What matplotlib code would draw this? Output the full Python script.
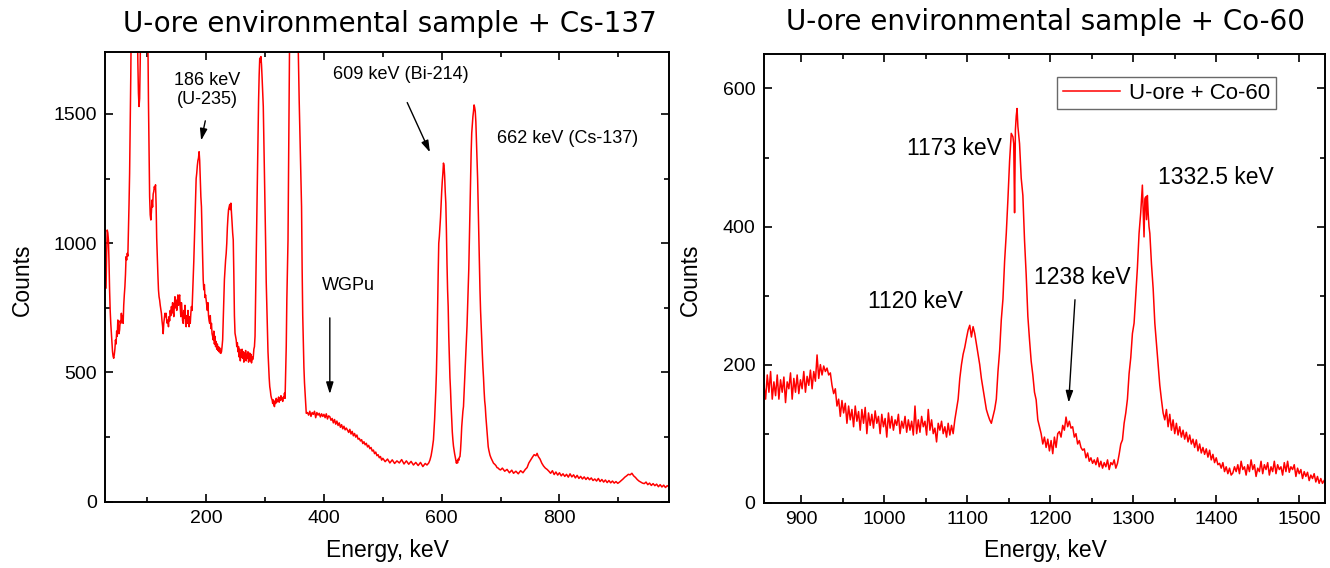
import matplotlib
matplotlib.use("Agg")
import matplotlib.pyplot as plt
from matplotlib.ticker import MultipleLocator

# --- left panel: U-ore + Cs-137 (energy keV, counts) ---
cs_energy = [
    30, 31, 32, 33, 34, 35, 36, 37, 38, 39,
    40, 41, 42, 43, 44, 45, 46, 47, 48, 49,
    50, 51, 52, 53, 54, 55, 56, 57, 58, 59,
    60, 61, 62, 63, 64, 65, 66, 67, 68, 69,
    70, 71, 72, 73, 74, 76, 78, 80, 82, 84,
    85, 86, 87, 88, 90, 92, 94, 96, 98, 100,
    101, 102, 103, 104, 105, 106, 107, 108, 109, 110,
    111, 112, 113, 114, 115, 116, 117, 118, 119, 120,
    121, 122, 123, 124, 125, 126, 127, 128, 129, 130,
    131, 132, 133, 134, 135, 136, 137, 138, 139, 140,
    141, 142, 143, 144, 145, 146, 147, 148, 149, 150,
    151, 152, 153, 154, 155, 156, 157, 158, 159, 160,
    161, 162, 163, 164, 165, 166, 167, 168, 169, 170,
    171, 172, 173, 174, 175, 176, 177, 178,
    179, 180, 181, 182, 183, 184, 185, 186, 187, 188,
    189, 190, 191, 192, 193, 194, 195, 196, 197, 198,
    199, 200, 201, 202, 203, 204, 205, 206, 207, 208,
    209, 210, 211, 212, 213, 214, 215, 216, 217, 218,
    219, 220, 221, 222, 223, 224, 225, 226, 227, 228,
    229, 230, 231, 232, 233, 234, 235, 236, 237, 238,
    239, 240, 241, 242, 243, 244, 245, 246, 247, 248,
    249, 250,
    251, 252, 253, 254, 255, 256, 257, 258, 259, 260,
    261, 262, 263, 264, 265, 266, 267, 268, 269, 270,
    271, 272, 273, 274, 275, 276, 277, 278, 279, 280,
    281, 282, 283, 284, 285, 286, 287, 288, 289, 290,
    291, 292, 293, 294, 295, 296, 297, 298, 299, 300,
    301, 302, 303, 304, 305, 306, 307, 308, 309, 310,
    311, 312, 313, 314, 315, 316, 317, 318, 319, 320,
    321, 322, 323, 324, 325, 326, 327, 328, 329, 330,
    331, 332, 333, 334, 335, 336, 337, 338, 339, 340,
    341, 342, 344, 346, 348, 350, 352, 354, 356, 358,
    360, 362, 363, 364, 365, 366, 367, 368, 369, 370,
    372, 374, 376, 378, 380, 382, 384, 386, 388, 390,
    392, 394, 396, 398, 400, 402, 404, 406, 408, 410,
    412, 414, 416, 418, 420, 422, 424, 426, 428, 430,
    432, 434, 436, 438, 440, 442, 444, 446, 448, 450,
    452, 454, 456, 458, 460, 462, 464, 466, 468, 470,
    472, 474, 476, 478, 480, 482, 484, 486, 488, 490,
    492, 494, 496, 498, 500,
    504, 508, 512, 516, 520, 524, 528, 532, 536, 540,
    544, 548, 552, 556, 560, 564, 568, 572, 575, 578,
    580, 582, 584, 586, 588, 590, 591, 592, 593, 594,
    595, 596, 597, 598, 599, 600, 601, 602, 603, 604,
    605, 606, 607, 608, 609, 610, 611, 612, 613, 614,
    615, 616, 617, 618, 619, 620, 622, 624, 625, 626,
    627, 628, 629, 630, 631, 632, 633, 634, 635, 636,
    637, 638, 639, 640, 641, 642, 643, 644, 645, 646,
    647, 648, 649, 650, 651, 652, 653, 654, 655, 656,
    657, 658, 659, 660, 661, 662, 663, 664, 665, 666,
    667, 668, 669, 670, 671, 672, 673, 674, 675, 676,
    677, 678, 679, 680, 682, 684, 686, 688, 690, 692,
    694, 696, 698, 700,
    703, 707, 711, 715, 719, 722, 726, 730, 734, 738,
    742, 745, 748, 751, 754, 757, 760, 762, 764, 767,
    770, 773, 776, 779, 782, 785, 788, 791, 794, 797,
    800, 803, 806, 809, 812, 815, 818, 821, 824, 827,
    830, 833, 836, 839, 842, 845, 848, 851, 854, 857,
    860, 863, 866, 869, 872, 875, 878, 881, 884, 887,
    890, 893, 896, 899, 902, 905, 908, 911, 914, 917,
    920, 923, 926, 929, 932, 935, 938, 941, 944, 947,
    950, 953, 956, 959, 962, 965, 968, 971, 974, 977,
    980, 983, 986,
]
cs_counts = [
    827, 960, 1051, 1040, 1013, 930, 819, 740, 690, 652,
    610, 580, 562, 555, 570, 590, 626, 610, 660, 640,
    703, 680, 650, 665, 700, 690, 729, 700, 720, 690,
    760, 800, 832, 880, 948, 935, 961, 950, 1050, 1150,
    1271, 1450, 1650, 1900, 2200, 2600, 2750, 2500, 2100, 1700,
    1580, 1529, 1560, 1700, 2100, 2500, 2700, 2600, 2300, 2000,
    1800, 1550, 1350, 1180, 1110, 1090, 1120, 1167, 1140, 1190,
    1200, 1219, 1210, 1226, 1150, 1020, 948, 880, 820, 793,
    780, 760, 745, 729, 700, 680, 650, 690, 710, 729,
    716, 729, 700, 690, 703, 677, 716, 700, 740, 720,
    755, 730, 770, 740, 716, 760, 793, 750, 780, 740,
    770, 800, 760, 790, 800, 750, 716, 770, 740, 700,
    690, 740, 710, 760, 690, 677, 720, 690, 740, 700,
    677, 716, 690, 730, 755, 740, 800, 858,
    930, 1013, 1100, 1180, 1250, 1271, 1300, 1320, 1330, 1354,
    1320, 1250, 1180, 1141, 1040, 948, 858, 820, 840, 790,
    800, 781, 760, 740, 770, 720, 700, 690, 720, 670,
    690, 650, 640, 626, 660, 610, 640, 600, 620, 590,
    610, 585, 600, 580, 595, 575, 574, 580, 600, 626,
    700, 780, 860, 900, 935, 960, 1000, 1060, 1100, 1130,
    1141, 1150, 1130, 1155, 1120, 1080, 1040, 1013, 880, 720,
    652, 640,
    626, 600, 615, 580, 600, 560, 590, 545, 575, 560,
    590, 555, 580, 540, 575, 550, 585, 545, 570, 555,
    580, 540, 560, 575, 545, 570, 537, 560, 550, 560,
    590, 600, 640, 800, 950, 1100, 1250, 1400, 1550, 1650,
    1716, 1700, 1722, 1690, 1640, 1580, 1529, 1400, 1250, 1141,
    1000, 850, 755, 650, 580, 530, 480, 445, 430, 410,
    400, 394, 380, 394, 375, 368, 390, 380, 400, 385,
    395, 390, 405, 385, 400, 392, 410, 395, 400, 388,
    405, 400, 420, 400, 497, 600, 780, 900, 1013, 1300,
    1600, 1900, 2300, 2700, 2900, 3000, 2950, 2700, 1800, 1550,
    1350, 1141, 900, 720, 626, 520, 460, 419, 380, 342,
    345, 335, 350, 330, 345, 338, 350, 325, 345, 335,
    342, 328, 340, 330, 338, 325, 340, 320, 332, 329,
    315, 322, 305, 318, 300, 312, 295, 305, 288, 298,
    282, 292, 278, 285, 277, 268, 280, 262, 272, 255,
    264, 250, 258, 242, 245, 235, 240, 225, 232, 220,
    226, 212, 218, 205, 210, 196, 200, 186, 192, 178,
    182, 170, 175, 161, 168,
    155, 165, 150, 162, 148, 158, 150, 163, 146, 158,
    145, 156, 142, 152, 140, 152, 136, 148, 142, 150,
    161, 178, 205, 239, 320, 430, 497, 600, 750, 880,
    1000, 1026, 1060, 1100, 1150, 1200, 1240, 1270, 1310, 1300,
    1260, 1200, 1155, 1050, 920, 820, 755, 640, 560, 480,
    432, 370, 320, 270, 239, 215, 185, 160, 149, 158,
    150, 165, 160, 172, 174, 200, 240, 290, 320, 350,
    368, 420, 480, 520, 570, 626, 680, 750, 820, 900,
    1013, 1120, 1250, 1350, 1426, 1460, 1490, 1510, 1535, 1525,
    1510, 1470, 1400, 1320, 1250, 1140, 1026, 920, 820, 740,
    680, 626, 570, 520, 480, 430, 390, 368, 330, 300,
    270, 240, 213, 200, 180, 168, 158, 149, 145, 140,
    132, 130, 125, 123,
    130, 118, 125, 112, 122, 110, 118, 108, 120, 112,
    125, 132, 150, 161, 172, 182, 178, 187, 175, 165,
    149, 138, 130, 125, 118, 110, 120, 105, 115, 103,
    112, 100, 108, 98, 106, 95, 108, 96, 104, 92,
    102, 90, 98, 88, 96, 86, 94, 85, 92, 82,
    88, 80, 90, 78, 86, 76, 84, 74, 82, 73,
    80, 72, 78, 71, 76, 82, 88, 95, 100, 106,
    104, 110, 100, 94, 86, 80, 76, 72, 70, 76,
    66, 72, 63, 70, 62, 68, 58, 66, 57, 64,
    55, 62, 58,
]

# --- right panel: U-ore + Co-60 ---
co_energy = [
    855, 857, 859, 861, 863, 865, 867, 869, 871, 873,
    875, 877, 879, 881, 883, 885, 887, 889, 891, 893,
    895, 897, 899, 901, 903, 905, 907, 909, 911, 913,
    915, 917, 919, 921, 923, 925, 927, 929, 931, 933,
    935, 937, 939, 941, 943, 945, 947, 949, 951, 953,
    955, 957, 959, 961, 963, 965, 967, 969, 971, 973,
    975, 977, 979, 981, 983, 985, 987, 989, 991, 993,
    995, 997, 999, 1001, 1003, 1005, 1007, 1009, 1011, 1013,
    1015, 1017, 1019, 1021, 1023, 1025, 1027, 1029, 1031, 1033,
    1035, 1037, 1039, 1041, 1043, 1045, 1047, 1049, 1051, 1053,
    1055, 1057, 1059, 1061, 1063, 1065, 1067, 1069, 1071, 1073,
    1075, 1077, 1079, 1081, 1083, 1085, 1087, 1089, 1091, 1093,
    1095, 1097, 1099, 1101, 1103, 1105, 1107, 1109, 1111, 1113,
    1115, 1117, 1119, 1121, 1123, 1125, 1127, 1129, 1131, 1133,
    1135, 1137, 1139, 1141, 1143, 1145, 1147, 1149, 1151, 1153,
    1155, 1156, 1157, 1158, 1159, 1160, 1161, 1163, 1165, 1167,
    1169, 1171, 1173, 1175, 1177, 1179, 1181, 1183, 1185, 1187,
    1189, 1191, 1193, 1195, 1197, 1199, 1201, 1203, 1205, 1207,
    1209, 1211, 1213, 1215, 1217, 1219, 1221, 1223, 1225, 1227,
    1229, 1231, 1233, 1235, 1237, 1239, 1241, 1243, 1245, 1247,
    1249, 1251, 1253, 1255, 1257, 1259, 1261, 1263, 1265, 1267,
    1269, 1271, 1273, 1275, 1277, 1279, 1281, 1283, 1285, 1287,
    1289, 1291, 1293, 1295, 1297, 1299, 1301, 1303, 1305, 1307,
    1309, 1311, 1312, 1313, 1314, 1315, 1316, 1317, 1318, 1319,
    1320, 1322, 1324, 1326, 1328, 1330, 1332, 1334, 1336, 1338,
    1340, 1342, 1344, 1346, 1348, 1350, 1352, 1354, 1356, 1358,
    1360, 1362, 1364, 1366, 1368, 1370, 1372, 1374, 1376, 1378,
    1380, 1382, 1384, 1386, 1388, 1390, 1392, 1394, 1396, 1398,
    1400, 1402, 1404, 1406, 1408, 1410, 1412, 1414, 1416, 1418,
    1420, 1422, 1424, 1426, 1428, 1430, 1432, 1434, 1436, 1438,
    1440, 1442, 1444, 1446, 1448, 1450, 1452, 1454, 1456, 1458,
    1460, 1462, 1464, 1466, 1468, 1470, 1472, 1474, 1476, 1478,
    1480, 1482, 1484, 1486, 1488, 1490, 1492, 1494, 1496, 1498,
    1500, 1502, 1504, 1506, 1508, 1510, 1512, 1514, 1516, 1518,
    1520, 1522, 1524, 1526, 1528, 1530,
]
co_counts = [
    170, 150, 185, 160, 190, 150, 175, 155, 185, 150,
    178, 160, 182, 145, 175, 165, 188, 150, 180, 160,
    185, 158, 178, 165, 190, 160, 183, 170, 192, 165,
    190, 176, 214, 180, 200, 185, 198, 190, 195, 185,
    188, 170, 158, 165, 140, 150, 125, 148, 130, 144,
    115, 140, 120, 135, 110, 140, 118, 132, 105, 135,
    115, 138, 100, 130, 112, 128, 108, 133, 115, 125,
    100, 128, 110, 122, 95, 130, 108, 125, 105, 120,
    112, 128, 100, 118, 108, 125, 102, 120, 105, 118,
    98, 140, 100, 120, 102, 125, 110, 118, 98, 135,
    105, 120, 100, 108, 88, 115, 105, 118, 100, 110,
    95, 115, 98, 112, 100, 120, 135, 150, 180, 200,
    215, 225, 238, 250, 257, 240, 255, 245, 230, 215,
    200, 180, 165, 150, 135, 127, 120, 115, 125, 135,
    150, 190, 220, 265, 295, 350, 390, 440, 495, 535,
    530, 520, 420, 540, 560, 571, 545, 520, 470, 445,
    380, 330, 270, 236, 205, 185, 160, 149, 120, 110,
    100, 85, 95, 80, 92, 75, 90, 71, 95, 80,
    100, 103, 95, 112, 105, 124, 110, 118, 108, 110,
    95, 100, 85, 90, 80, 76, 78, 65, 72, 60,
    65, 57, 62, 55, 65, 52, 60, 50, 58, 52,
    62, 48, 58, 55, 62, 50, 57, 70, 85, 91,
    115, 130, 150, 187, 210, 245, 260, 300, 340, 390,
    420, 460, 420, 385, 440, 443, 410, 445, 419, 400,
    390, 345, 310, 260, 230, 202, 170, 149, 130, 120,
    135, 110, 128, 105, 120, 100, 115, 98, 110, 95,
    105, 92, 102, 88, 98, 85, 92, 80, 91, 75,
    85, 72, 80, 70, 78, 66, 76, 62, 70, 58,
    65, 55, 57, 50, 58, 45, 52, 42, 50, 40,
    43, 52, 45, 55, 42, 60, 48, 52, 40, 55,
    45, 62, 48, 55, 38, 50, 45, 60, 42, 55,
    48, 58, 40, 52, 45, 60, 42, 55, 48, 52,
    40, 58, 45, 60, 44, 52, 48, 55, 38, 50,
    42, 48, 35, 45, 38, 44, 32, 40, 35, 42,
    30, 38, 28, 35, 28, 32,
]

plt.rcParams['font.family'] = ['Liberation Sans', 'DejaVu Sans']

fig = plt.figure(figsize=(13.3, 5.68), dpi=100)
ax1 = fig.add_axes([0.0793, 0.1167, 0.4237, 0.7923])
ax2 = fig.add_axes([0.5744, 0.115, 0.4218, 0.790])

red = '#ff0000'
ax1.plot(cs_energy, cs_counts, color=red, lw=1.1)
ax2.plot(co_energy, co_counts, color=red, lw=1.1, label='U-ore + Co-60')

ax1.set_xlim(29, 986)
ax1.set_ylim(0, 1741)
ax2.set_xlim(855, 1531)
ax2.set_ylim(0, 650)

ax1.xaxis.set_major_locator(MultipleLocator(200))
ax1.xaxis.set_minor_locator(MultipleLocator(100))
ax1.yaxis.set_major_locator(MultipleLocator(500))
ax1.yaxis.set_minor_locator(MultipleLocator(250))
ax2.xaxis.set_major_locator(MultipleLocator(100))
ax2.xaxis.set_minor_locator(MultipleLocator(50))
ax2.yaxis.set_major_locator(MultipleLocator(200))
ax2.yaxis.set_minor_locator(MultipleLocator(100))

for ax in (ax1, ax2):
    for s in ax.spines.values():
        s.set_linewidth(1.4)
    ax.tick_params(which='both', direction='in', top=True, right=True,
                   labelsize=14, width=1.2, pad=6)
    ax.tick_params(which='major', length=6)
    ax.tick_params(which='minor', length=3.6)

# titles and axis labels
fig.text(390 / 1330, 1 - 24 / 568, 'U-ore environmental sample + Cs-137',
         ha='center', va='center', fontsize=20, family='DejaVu Sans')
fig.text(1045 / 1330, 1 - 22 / 568, 'U-ore environmental sample + Co-60',
         ha='center', va='center', fontsize=20, family='DejaVu Sans')
fig.text(22 / 1330, 1 - 280 / 568, 'Counts', rotation=90, ha='center', va='center', fontsize=16.5)
fig.text(690 / 1330, 1 - 280 / 568, 'Counts', rotation=90, ha='center', va='center', fontsize=16.5)
fig.text(387 / 1330, 1 - 550 / 568, 'Energy, keV', ha='center', va='center', fontsize=16.5)
fig.text(1045 / 1330, 1 - 550 / 568, 'Energy, keV', ha='center', va='center', fontsize=16.5)

# left panel annotations
arrow = dict(arrowstyle='-|>,head_length=0.7,head_width=0.22', color='black', lw=1.0)
ax1.text(202, 1593, '186 keV\n(U-235)', ha='center', va='center', fontsize=13, linespacing=1.2)
ax1.annotate('', xy=(190.5, 1387), xytext=(199.5, 1484), arrowprops=arrow)
ax1.text(531, 1651, '609 keV (Bi-214)', ha='center', va='center', fontsize=13)
ax1.annotate('', xy=(582, 1342), xytext=(539.5, 1554), arrowprops=arrow)
ax1.text(694, 1406, '662 keV (Cs-137)', ha='left', va='center', fontsize=13)
ax1.text(442, 835, 'WGPu', ha='center', va='center', fontsize=13)
ax1.annotate('', xy=(410, 406), xytext=(410, 722), arrowprops=arrow)

# right panel annotations
ax2.text(1085, 513, '1173 keV', ha='center', va='center', fontsize=16.5)
ax2.text(1037, 292, '1120 keV', ha='center', va='center', fontsize=16.5)
ax2.text(1239, 326, '1238 keV', ha='center', va='center', fontsize=16.5)
ax2.annotate('', xy=(1222, 141), xytext=(1230, 298), arrowprops=arrow)
ax2.text(1400, 471, '1332.5 keV', ha='center', va='center', fontsize=16.5)

leg = ax2.legend(loc='upper right', bbox_to_anchor=(1276 / 1330, 1 - 77 / 568),
                 bbox_transform=fig.transFigure, fontsize=16, frameon=True,
                 fancybox=False, edgecolor='#444444', handlelength=2.6,
                 borderpad=0.25, handletextpad=0.4, borderaxespad=0)
leg.get_frame().set_linewidth(1.0)

fig.savefig('out.png', dpi=100)
